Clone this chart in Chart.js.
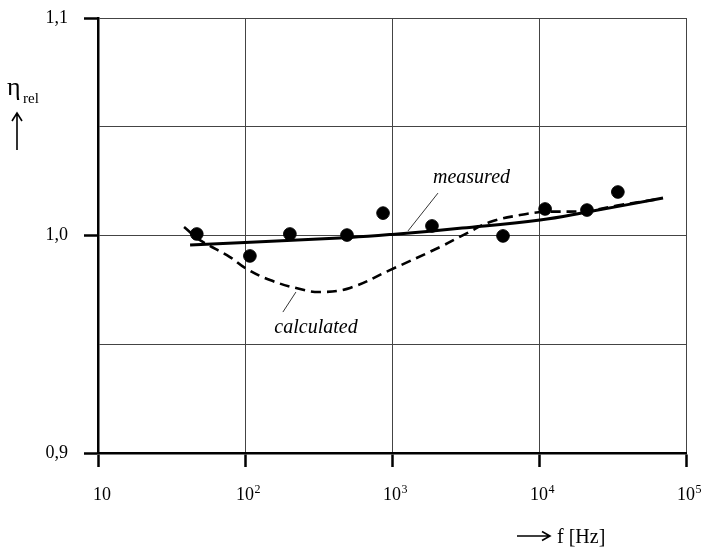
<!DOCTYPE html>
<html>
<head>
<meta charset="utf-8">
<script src="https://cdn.jsdelivr.net/npm/chart.js@4.4.0/dist/chart.umd.min.js"></script>
<style>
  html, body { margin: 0; padding: 0; background: #fff; }
  #wrap { width: 702px; height: 550px; }
</style>
</head>
<body>
<div id="wrap"><canvas id="chart" width="702" height="550"></canvas></div>
<script>
// measured points (dots)
const dotFreq = [47, 108, 202, 494, 869, 1870, 5690, 11000, 21200, 34400];
const dotEta = [1.0007, 0.9906, 1.0007, 1.0002, 1.0103, 1.0044, 0.9998, 1.0122, 1.0117, 1.0200];

// measured fit (solid)
const measFreq = [42.3, 100, 518, 1000, 3000, 10160, 21230, 69800];
const measEta = [0.9956, 0.9968, 0.9991, 1.0005, 1.0034, 1.0071, 1.0108, 1.0172];

// calculated (dashed)
const calcFreq = [38.5, 49.4, 79, 100, 148, 237, 324, 518, 968, 2120, 3240, 4640, 7430, 10600, 21200, 35600, 61500];
const calcEta = [1.0039, 0.9979, 0.9901, 0.9851, 0.9795, 0.9754, 0.9740, 0.9759, 0.9841, 0.9947, 1.0011, 1.0062, 1.0094, 1.0108, 1.0113, 1.0140, 1.0165];

// axis ticks
const xTickExp = [1, 2, 3, 4, 5];
const yTickLabels = [0.9, 1.0, 1.1];

const FONT = '"Liberation Serif", "DejaVu Serif", serif';

function toXY(xs, ys) {
  return xs.map((x, i) => ({ x: x, y: ys[i] }));
}

function isLabelled(v) {
  return yTickLabels.some(t => Math.abs(t - v) < 1e-6);
}

// extra text: tick labels with superscripts, axis titles, curve labels
const overlay = {
  id: 'overlay',
  afterDraw(chart) {
    const ctx = chart.ctx;
    const xs = chart.scales.x, ys = chart.scales.y;
    ctx.save();
    ctx.fillStyle = '#000';
    ctx.strokeStyle = '#000';
    ctx.textBaseline = 'alphabetic';

    // x tick labels 10, 10^2 ...
    xTickExp.forEach(e => {
      const px = xs.getPixelForValue(Math.pow(10, e));
      ctx.font = '18px ' + FONT;
      if (e === 1) {
        ctx.textAlign = 'center';
        ctx.fillText('10', px + 4, 500);
        return;
      }
      const w1 = ctx.measureText('10').width;
      ctx.textAlign = 'left';
      ctx.fillText('10', px - w1 / 2, 500);
      ctx.font = '12px ' + FONT;
      ctx.fillText(String(e), px + w1 / 2 + 0.5, 493);
    });

    // y title: eta_rel with up arrow
    ctx.textAlign = 'left';
    ctx.font = '26px ' + FONT;
    ctx.fillText('η', 7, 95);
    const we = ctx.measureText('η').width;
    ctx.font = '15px ' + FONT;
    ctx.fillText('rel', Math.max(23, 7 + we + 1), 103);
    ctx.lineWidth = 1.6;
    ctx.beginPath();
    ctx.moveTo(17, 150); ctx.lineTo(17, 113);
    ctx.moveTo(12, 121); ctx.lineTo(17, 113); ctx.lineTo(22, 121);
    ctx.stroke();

    // x title: arrow f [Hz]
    ctx.beginPath();
    ctx.moveTo(517, 536); ctx.lineTo(550, 536);
    ctx.moveTo(542, 531.5); ctx.lineTo(550, 536); ctx.lineTo(542, 540.5);
    ctx.stroke();
    ctx.font = '20px ' + FONT;
    ctx.fillText('f [Hz]', 557, 543);

    // curve labels with leader lines
    ctx.lineWidth = 0.8;
    ctx.beginPath();
    ctx.moveTo(xs.getPixelForValue(2055), ys.getPixelForValue(1.0195));
    ctx.lineTo(xs.getPixelForValue(1285), ys.getPixelForValue(1.0021));
    ctx.moveTo(xs.getPixelForValue(222), ys.getPixelForValue(0.9740));
    ctx.lineTo(xs.getPixelForValue(181), ys.getPixelForValue(0.9648));
    ctx.stroke();

    ctx.font = 'italic 20px ' + FONT;
    ctx.textAlign = 'center';
    ctx.fillText('measured', xs.getPixelForValue(3475), ys.getPixelForValue(1.0241));
    ctx.fillText('calculated', xs.getPixelForValue(304), ys.getPixelForValue(0.9552));
    ctx.restore();
  }
};

new Chart(document.getElementById('chart'), {
  type: 'scatter',
  data: {
    datasets: [
      {
        label: 'points',
        data: toXY(dotFreq, dotEta),
        backgroundColor: '#000',
        borderColor: '#000',
        pointRadius: 6.3,
        showLine: false,
        order: 0
      },
      {
        label: 'measured',
        data: toXY(measFreq, measEta),
        borderColor: '#000',
        borderWidth: 3,
        pointRadius: 0,
        showLine: true,
        tension: 0.4,
        order: 1
      },
      {
        label: 'calculated',
        data: toXY(calcFreq, calcEta),
        borderColor: '#000',
        borderWidth: 2.6,
        borderDash: [10, 6],
        pointRadius: 0,
        showLine: true,
        tension: 0.4,
        order: 2
      }
    ]
  },
  options: {
    responsive: false,
    animation: false,
    devicePixelRatio: 1,
    layout: { padding: { left: 0, top: 18, right: 16, bottom: 0 } },
    plugins: {
      legend: { display: false },
      tooltip: { enabled: false }
    },
    scales: {
      x: {
        type: 'logarithmic',
        min: 10,
        max: 100000,
        afterBuildTicks: (scale) => {
          scale.ticks = xTickExp.map(e => ({ value: Math.pow(10, e) }));
        },
        afterFit: (scale) => {
          scale.height = 97;
          scale.paddingLeft = 0;
          scale.paddingRight = 0;
        },
        ticks: { display: false },
        grid: {
          color: '#444',
          lineWidth: 1,
          drawTicks: true,
          tickLength: 14,
          tickWidth: 2.5,
          tickColor: '#000'
        },
        border: { display: true, color: '#000', width: 2.5 }
      },
      y: {
        min: 0.9,
        max: 1.1,
        afterFit: (scale) => {
          scale.width = 98;
          scale.paddingTop = 0;
          scale.paddingBottom = 0;
        },
        ticks: {
          stepSize: 0.05,
          color: '#000',
          padding: 16,
          font: { family: FONT, size: 18 },
          callback: (v) => isLabelled(v) ? v.toFixed(1).replace('.', ',') : ''
        },
        grid: {
          color: '#444',
          lineWidth: 1,
          drawTicks: true,
          tickLength: 14,
          tickWidth: 2.5,
          tickColor: (ctx) => (ctx.tick && isLabelled(ctx.tick.value)) ? '#000' : 'rgba(0,0,0,0)'
        },
        border: { display: true, color: '#000', width: 2.5 }
      }
    }
  },
  plugins: [overlay]
});
</script>
</body>
</html>
